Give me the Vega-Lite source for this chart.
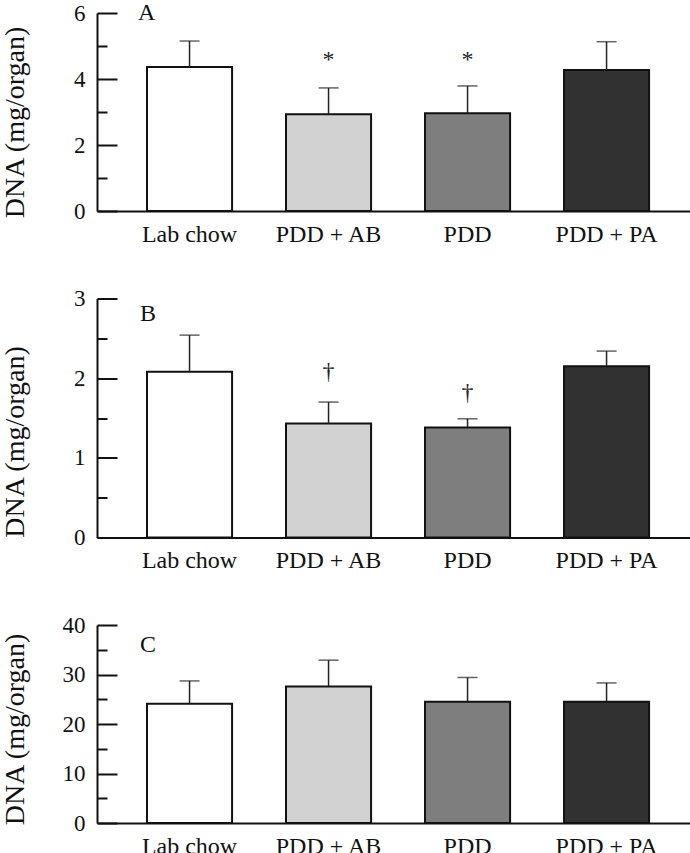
{
  "$schema": "https://vega.github.io/schema/vega-lite/v6.json",
  "padding": {"left": 0, "top": 0, "right": 0, "bottom": 0},
  "background": "white",
  "spacing": 87.5,
  "bounds": "flush",
  "config": {
    "view": {"stroke": null},
    "font": "Liberation Serif",
    "axisX": {
      "domainColor": "#111", "domainWidth": 2, "ticks": false, "grid": false,
      "labelFont": "Liberation Serif", "labelFontSize": 24, "labelColor": "#111",
      "labelBaseline": "alphabetic", "labelPadding": 30, "labelAngle": 0, "title": null
    },
    "axisY": {
      "domainColor": "#111", "domainWidth": 2, "tickColor": "#111", "tickWidth": 2,
      "grid": false, "labelFont": "Liberation Serif", "labelFontSize": 23, "labelColor": "#111",
      "labelPadding": 32, "tickSize": -20, "format": "d",
      "titleFont": "Liberation Serif", "titleFontSize": 28, "titleFontWeight": "normal", "titleColor": "#111",
      "titleAngle": -90, "titleAlign": "center", "titleBaseline": "alphabetic", "titleX": -74
    }
  },
  "vconcat": [
    {
      "width": 593, "height": 198,
      "data": {"values": [
        {"group": "Lab chow", "mean": 4.36, "upper": 5.15, "ann": null, "ann_y": null},
        {"group": "PDD + AB", "mean": 2.93, "upper": 3.73, "ann": "*", "ann_y": 4.35},
        {"group": "PDD", "mean": 2.96, "upper": 3.79, "ann": "*", "ann_y": 4.35},
        {"group": "PDD + PA", "mean": 4.27, "upper": 5.13, "ann": null, "ann_y": null}
      ]},
      "resolve": {"axis": {"y": "independent"}},
      "layer": [
        {
          "mark": {"type": "bar", "stroke": "#111", "strokeWidth": 2},
          "encoding": {
            "x": {"field": "group", "type": "nominal", "sort": null,
                  "scale": {"domain": ["Lab chow", "PDD + AB", "PDD", "PDD + PA"], "paddingInner": 0.388, "paddingOuter": 0.327, "align": 0.55},
                  "axis": {}},
            "y": {"field": "mean", "type": "quantitative",
                  "scale": {"domain": [0, 6], "nice": false},
                  "axis": {"title": "DNA (mg/organ)", "titleY": 109, "values": [0, 2, 4, 6]}},
            "fill": {"field": "group", "type": "nominal", "legend": null,
                     "scale": {"domain": ["Lab chow", "PDD + AB", "PDD", "PDD + PA"], "range": ["#ffffff", "#d2d2d2", "#7e7e7e", "#313131"]}}
          }
        },
        {
          "mark": {"type": "rule", "color": "#222", "strokeWidth": 1.5},
          "encoding": {"x": {"field": "group", "type": "nominal"},
                       "y": {"field": "mean", "type": "quantitative",
                             "axis": {"orient": "left", "values": [1, 3, 5], "tickSize": -10, "labels": false, "domain": false, "title": null}},
                       "y2": {"field": "upper"}}
        },
        {
          "mark": {"type": "tick", "color": "#222", "thickness": 1.5, "size": 20, "orient": "horizontal"},
          "encoding": {"x": {"field": "group", "type": "nominal"}, "y": {"field": "upper", "type": "quantitative", "axis": null}}
        },
        {
          "transform": [{"filter": "datum.ann != null"}],
          "mark": {"type": "text", "font": "Liberation Serif", "fontSize": 24, "baseline": "alphabetic", "color": "#222"},
          "encoding": {"x": {"field": "group", "type": "nominal"}, "y": {"field": "ann_y", "type": "quantitative", "axis": null}, "text": {"field": "ann"}}
        },
        {
          "data": {"values": [{"group": "Lab chow", "y": 5.79, "label": "A"}]},
          "mark": {"type": "text", "font": "Liberation Serif", "fontSize": 24, "baseline": "alphabetic", "align": "left", "dx": -9, "color": "#111"},
          "encoding": {"x": {"field": "group", "type": "nominal", "bandPosition": 0}, "y": {"field": "y", "type": "quantitative", "axis": null}, "text": {"field": "label"}}
        }
      ]
    },
    {
      "width": 593, "height": 239,
      "data": {"values": [
        {"group": "Lab chow", "mean": 2.08, "upper": 2.54, "ann": null, "ann_y": null},
        {"group": "PDD + AB", "mean": 1.43, "upper": 1.70, "ann": "†", "ann_y": 1.99},
        {"group": "PDD", "mean": 1.38, "upper": 1.49, "ann": "†", "ann_y": 1.73},
        {"group": "PDD + PA", "mean": 2.15, "upper": 2.34, "ann": null, "ann_y": null}
      ]},
      "resolve": {"axis": {"y": "independent"}},
      "layer": [
        {
          "mark": {"type": "bar", "stroke": "#111", "strokeWidth": 2},
          "encoding": {
            "x": {"field": "group", "type": "nominal", "sort": null,
                  "scale": {"domain": ["Lab chow", "PDD + AB", "PDD", "PDD + PA"], "paddingInner": 0.388, "paddingOuter": 0.327, "align": 0.55},
                  "axis": {}},
            "y": {"field": "mean", "type": "quantitative",
                  "scale": {"domain": [0, 3], "nice": false},
                  "axis": {"title": "DNA (mg/organ)", "titleY": 143, "values": [0, 1, 2, 3]}},
            "fill": {"field": "group", "type": "nominal", "legend": null,
                     "scale": {"domain": ["Lab chow", "PDD + AB", "PDD", "PDD + PA"], "range": ["#ffffff", "#d2d2d2", "#7e7e7e", "#313131"]}}
          }
        },
        {
          "mark": {"type": "rule", "color": "#222", "strokeWidth": 1.5},
          "encoding": {"x": {"field": "group", "type": "nominal"},
                       "y": {"field": "mean", "type": "quantitative",
                             "axis": {"orient": "left", "values": [0.5, 1.5, 2.5], "tickSize": -10, "labels": false, "domain": false, "title": null}},
                       "y2": {"field": "upper"}}
        },
        {
          "mark": {"type": "tick", "color": "#222", "thickness": 1.5, "size": 20, "orient": "horizontal"},
          "encoding": {"x": {"field": "group", "type": "nominal"}, "y": {"field": "upper", "type": "quantitative", "axis": null}}
        },
        {
          "transform": [{"filter": "datum.ann != null"}],
          "mark": {"type": "text", "font": "Liberation Serif", "fontSize": 24, "baseline": "alphabetic", "color": "#222"},
          "encoding": {"x": {"field": "group", "type": "nominal"}, "y": {"field": "ann_y", "type": "quantitative", "axis": null}, "text": {"field": "ann"}}
        },
        {
          "data": {"values": [{"group": "Lab chow", "y": 2.72, "label": "B"}]},
          "mark": {"type": "text", "font": "Liberation Serif", "fontSize": 24, "baseline": "alphabetic", "align": "left", "dx": -7, "color": "#111"},
          "encoding": {"x": {"field": "group", "type": "nominal", "bandPosition": 0}, "y": {"field": "y", "type": "quantitative", "axis": null}, "text": {"field": "label"}}
        }
      ]
    },
    {
      "width": 593, "height": 198,
      "data": {"values": [
        {"group": "Lab chow", "mean": 24.1, "upper": 28.7},
        {"group": "PDD + AB", "mean": 27.6, "upper": 32.9},
        {"group": "PDD", "mean": 24.5, "upper": 29.4},
        {"group": "PDD + PA", "mean": 24.5, "upper": 28.3}
      ]},
      "resolve": {"axis": {"y": "independent"}},
      "layer": [
        {
          "mark": {"type": "bar", "stroke": "#111", "strokeWidth": 2},
          "encoding": {
            "x": {"field": "group", "type": "nominal", "sort": null,
                  "scale": {"domain": ["Lab chow", "PDD + AB", "PDD", "PDD + PA"], "paddingInner": 0.388, "paddingOuter": 0.327, "align": 0.55},
                  "axis": {}},
            "y": {"field": "mean", "type": "quantitative",
                  "scale": {"domain": [0, 40], "nice": false},
                  "axis": {"title": "DNA (mg/organ)", "titleY": 104, "values": [0, 10, 20, 30, 40]}},
            "fill": {"field": "group", "type": "nominal", "legend": null,
                     "scale": {"domain": ["Lab chow", "PDD + AB", "PDD", "PDD + PA"], "range": ["#ffffff", "#d2d2d2", "#7e7e7e", "#313131"]}}
          }
        },
        {
          "mark": {"type": "rule", "color": "#222", "strokeWidth": 1.5},
          "encoding": {"x": {"field": "group", "type": "nominal"},
                       "y": {"field": "mean", "type": "quantitative",
                             "axis": {"orient": "left", "values": [5, 15, 25, 35], "tickSize": -10, "labels": false, "domain": false, "title": null}},
                       "y2": {"field": "upper"}}
        },
        {
          "mark": {"type": "tick", "color": "#222", "thickness": 1.5, "size": 20, "orient": "horizontal"},
          "encoding": {"x": {"field": "group", "type": "nominal"}, "y": {"field": "upper", "type": "quantitative", "axis": null}}
        },
        {
          "data": {"values": [{"group": "Lab chow", "y": 34.6, "label": "C"}]},
          "mark": {"type": "text", "font": "Liberation Serif", "fontSize": 24, "baseline": "alphabetic", "align": "left", "dx": -7, "color": "#111"},
          "encoding": {"x": {"field": "group", "type": "nominal", "bandPosition": 0}, "y": {"field": "y", "type": "quantitative", "axis": null}, "text": {"field": "label"}}
        }
      ]
    }
  ]
}
